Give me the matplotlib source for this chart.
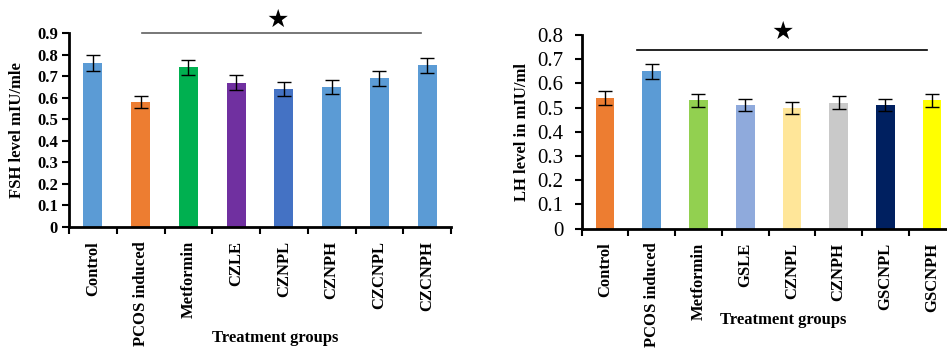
import matplotlib
matplotlib.use('Agg')
import matplotlib.pyplot as plt

plt.rcParams['font.family'] = ['Liberation Serif', 'DejaVu Sans']

# FSH panel data
fsh_groups = ['Control', 'PCOS induced', 'Metformin', 'CZLE', 'CZNPL', 'CZNPH', 'CZCNPL', 'CZCNPH']
fsh_values = [0.76, 0.58, 0.74, 0.67, 0.64, 0.65, 0.69, 0.75]
fsh_errors = [0.037, 0.03, 0.036, 0.034, 0.032, 0.032, 0.034, 0.036]
fsh_colors = ['#5B9BD5', '#ED7D31', '#00B050', '#7030A0', '#4472C4', '#5B9BD5', '#5B9BD5', '#5B9BD5']

# LH panel data
lh_groups = ['Control', 'PCOS induced', 'Metformin', 'GSLE', 'CZNPL', 'CZNPH', 'GSCNPL', 'GSCNPH']
lh_values = [0.54, 0.65, 0.53, 0.51, 0.50, 0.52, 0.51, 0.53]
lh_errors = [0.028, 0.032, 0.026, 0.025, 0.025, 0.027, 0.025, 0.026]
lh_colors = ['#ED7D31', '#5B9BD5', '#92D050', '#8FAADC', '#FFE699', '#C9C9C9', '#002060', '#FFFF00']

# significance bar (x span in group index units, y level) and star position
fsh_sig = (1.03, 6.87, 0.898)
fsh_star = (3.86, 0.963)
lh_sig = (0.68, 6.89, 0.738)
lh_star = (3.81, 0.815)

fig = plt.figure(figsize=(9.47, 3.54), dpi=100)
ax1 = fig.add_axes([0.0729, 0.3588, 0.4034, 0.548])
ax2 = fig.add_axes([0.6143, 0.354, 0.3945, 0.547])


def draw_panel(ax, groups, values, errors, colors, ymax, ylabel, tick_size, tick_weight,
               sig, star, sig_color, ylab_x, xlab_y):
    x = list(range(len(groups)))
    ax.bar(x, values, width=0.4, color=colors, zorder=2)
    ax.errorbar(x, values, yerr=errors, fmt='none', ecolor='black', elinewidth=1,
                capsize=5, capthick=1, zorder=3)
    ax.set_xlim(-0.5, len(groups) - 0.5)
    ax.set_ylim(0, ymax)
    ax.set_yticks([i / 10 for i in range(int(round(ymax * 10)) + 1)])
    ax.set_yticklabels(['0'] + ['%.1f' % (i / 10) for i in range(1, int(round(ymax * 10)) + 1)],
                       fontsize=tick_size, fontweight=tick_weight)
    ax.set_xticks([i - 0.5 for i in range(len(groups) + 1)])
    ax.set_xticklabels([])
    ax.set_xticks(x, minor=True)
    ax.set_xticklabels(groups, minor=True, rotation=90, fontsize=12, fontweight='bold')
    ax.tick_params(axis='x', which='minor', length=0, pad=10)
    ax.tick_params(axis='x', which='major', length=5, width=1.5, direction='out')
    ax.tick_params(axis='y', length=5, width=1.5, direction='out', pad=3)
    for s in ['top', 'right']:
        ax.spines[s].set_visible(False)
    for s in ['left', 'bottom']:
        ax.spines[s].set_linewidth(2)
    ax.plot([sig[0], sig[1]], [sig[2], sig[2]], color=sig_color, lw=1.2, clip_on=False)
    ax.text(star[0], star[1], '\u2605', family='DejaVu Sans', fontsize=18,
            ha='center', va='center', clip_on=False)
    ax.text(ylab_x, 0.5, ylabel, transform=ax.transAxes, rotation=90, ha='center',
            va='center', fontsize=12, fontweight='bold')
    ax.text(0.54, xlab_y, 'Treatment groups', transform=ax.transAxes, ha='center',
            va='center', fontsize=12, fontweight='bold')


draw_panel(ax1, fsh_groups, fsh_values, fsh_errors, fsh_colors, 0.9, 'FSH level mIU/mle',
           12, 'bold', fsh_sig, fsh_star, '#606060', -0.135, -0.572)
draw_panel(ax2, lh_groups, lh_values, lh_errors, lh_colors, 0.8, 'LH level in mIU/ml',
           15, 'normal', lh_sig, lh_star, 'black', -0.16, -0.471)
ax2.tick_params(axis='y', pad=8)

fig.savefig('out.png', dpi=100)
